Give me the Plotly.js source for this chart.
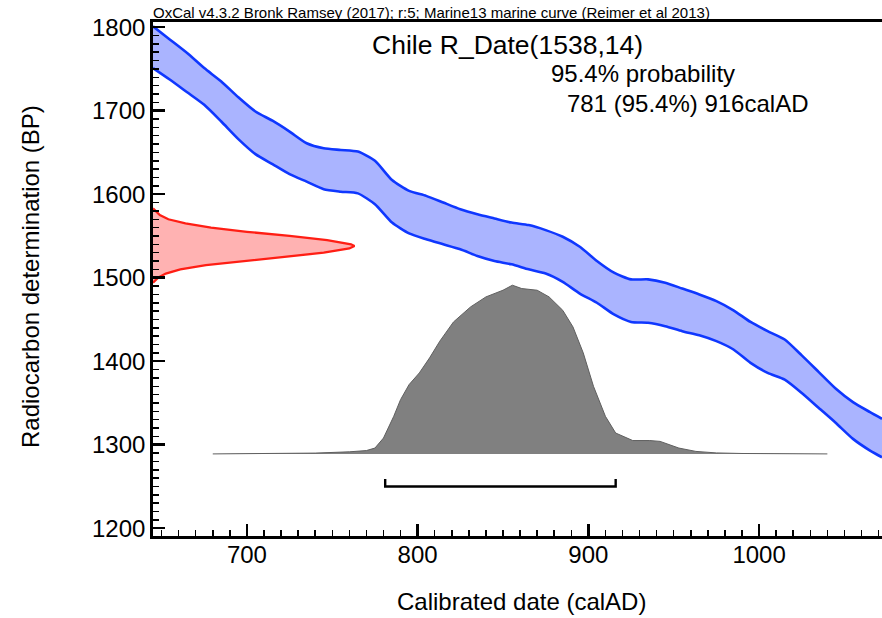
<!DOCTYPE html>
<html>
<head>
<meta charset="utf-8">
<script src="https://cdn.plot.ly/plotly-3.0.1.min.js"></script>
<style>html,body{margin:0;padding:0;background:#fff;}#chart{width:882px;height:618px;}</style>
</head>
<body>
<div id="chart"></div>
<script>
// ---- Calibration curve (Marine13), 1-sigma band ----
const calAD = [645,655,665,675,685,695,705,715,725,735,745,755,765,775,785,795,805,815,825,835,845,855,865,875,885,895,905,915,925,935,945,955,965,975,985,995,1005,1015,1025,1035,1045,1055,1065,1072];
const upperBP = [1801,1785,1769,1751,1735,1716,1699,1688,1675,1661,1655,1653,1651,1640,1617,1604,1598,1590,1582,1576,1571,1566,1563,1557,1549,1537,1520,1506,1498,1498,1494,1487,1480,1472,1461,1447,1436,1426,1407,1387,1367,1351,1339,1331];
const lowerBP = [1751,1737,1722,1707,1687,1666,1648,1636,1624,1615,1606,1603,1601,1588,1566,1553,1546,1540,1534,1526,1520,1516,1510,1505,1495,1481,1470,1456,1447,1446,1442,1436,1431,1424,1414,1398,1386,1378,1362,1344,1326,1307,1293,1285];

// ---- Radiocarbon measurement R_Date(1538,14): probability (height in calendar-year units) ----
const measBP = [1583,1580,1575,1570,1565,1560,1555,1550,1545,1540,1538,1535,1530,1525,1520,1515,1510,1505,1500,1496,1494];
const measH  = [0,1.5,4,9,19,34,55,80,102,116,118,115,100,77,52,31,16,7.5,3,1.3,0];

// ---- Calibrated probability distribution (height in BP units) ----
const postAD = [680,700,720,740,760,770,775,780,786,790,795,801,807,813,821,831,840,850,855.5,861,870,877,885,891,897,903,910,916,926,936,942,953,963,975,990,1010,1040];
const postH  = [0,0.3,0.5,1,2.5,4,7,19,45,65,83,97,115,135,158,176,188,196,202,198,196,188,172,152,121,81,45,25,16,16,15,7,3,1.2,0.5,0.2,0];

// ---- 95.4% range ----
const rangeAD = [781, 916];

// ---- Axes ----
const xTickVals = [700, 800, 900, 1000];
const yTickVals = [1200, 1300, 1400, 1500, 1600, 1700, 1800];

const xRange = [645, 1072];
const yRange = [1190.7, 1806.2];
const POST_BASE = 1289;   // baseline of the calibrated distribution
const BRACKET_Y = 1250, BRACKET_TICK = 9;

const W = 882, H = 618;
const M = {l:153, r:0, t:22, b:82};
const FONT = '"Liberation Sans", Arial, Helvetica, sans-serif';
function pxX(p){ return (p - M.l) / (W - M.l - M.r); }
function pxY(p){ return 1 - (p - M.t) / (H - M.t - M.b); }

const traces = [];
traces.push({
  x: calAD.concat(calAD.slice().reverse()),
  y: upperBP.concat(lowerBP.slice().reverse()),
  type:'scatter', mode:'lines', fill:'toself',
  fillcolor:'rgb(170,180,255)', line:{width:0, color:'rgba(0,0,0,0)', shape:'spline', smoothing:0.6},
  hoverinfo:'skip', showlegend:false
});
traces.push({x: calAD, y: upperBP, type:'scatter', mode:'lines', line:{color:'rgb(15,55,255)', width:2.6, shape:'spline', smoothing:0.6}, hoverinfo:'skip', showlegend:false});
traces.push({x: calAD, y: lowerBP, type:'scatter', mode:'lines', line:{color:'rgb(15,55,255)', width:2.6, shape:'spline', smoothing:0.6}, hoverinfo:'skip', showlegend:false});

traces.push({
  x: measH.map(h => xRange[0] + h),
  y: measBP,
  type:'scatter', mode:'lines', fill:'toself',
  fillcolor:'rgb(255,178,178)', line:{color:'rgb(255,30,20)', width:2.3},
  hoverinfo:'skip', showlegend:false
});

traces.push({
  x: postAD, y: postH.map(h => POST_BASE + h),
  type:'scatter', mode:'lines', fill:'toself',
  fillcolor:'rgb(128,128,128)', line:{color:'rgb(95,95,95)', width:1},
  hoverinfo:'skip', showlegend:false
});

traces.push({
  x: [rangeAD[0], rangeAD[0], rangeAD[1], rangeAD[1]],
  y: [BRACKET_Y + BRACKET_TICK, BRACKET_Y, BRACKET_Y, BRACKET_Y + BRACKET_TICK],
  type:'scatter', mode:'lines', line:{color:'black', width:2.4},
  hoverinfo:'skip', showlegend:false
});

const layout = {
  width: W, height: H,
  margin: M,
  paper_bgcolor:'white', plot_bgcolor:'white',
  font:{family: FONT, color:'black'},
  showlegend:false,
  xaxis:{
    range: xRange, showgrid:false, zeroline:false,
    showline:true, linecolor:'black', linewidth:2.8, mirror:true,
    tickmode:'array', tickvals: xTickVals, ticktext: xTickVals.map(String),
    ticks:'inside', ticklen:12, tickwidth:2.5, tickcolor:'black',
    ticklabelstandoff:-5,
    tickfont:{size:24, family: FONT, color:'black'},
    minor:{ticks:'inside', dtick:10, tick0:0, ticklen:6, tickwidth:1.5, tickcolor:'black'}
  },
  yaxis:{
    range: yRange, showgrid:false, zeroline:false,
    showline:true, linecolor:'black', linewidth:2.8, mirror:false,
    tickmode:'array', tickvals: yTickVals, ticktext: yTickVals.map(String),
    ticks:'inside', ticklen:12, tickwidth:2.5, tickcolor:'black',
    tickfont:{size:24, family: FONT, color:'black'},
    minor:{ticks:'inside', dtick:10, tick0:0, ticklen:6, tickwidth:1.5, tickcolor:'black'}
  },
  annotations:[
    {xref:'paper', yref:'paper', x:pxX(151), y:pxY(12), xanchor:'left', yanchor:'middle', showarrow:false,
     text:'OxCal v4.3.2 Bronk Ramsey (2017); r:5; Marine13 marine curve (Reimer et al 2013)', font:{size:15, family:FONT}},
    {xref:'paper', yref:'paper', x:pxX(507), y:pxY(45), xanchor:'center', yanchor:'middle', showarrow:false,
     text:'Chile R_Date(1538,14)', font:{size:26.5, family:FONT}},
    {xref:'paper', yref:'paper', x:pxX(643), y:pxY(74), xanchor:'center', yanchor:'middle', showarrow:false,
     text:'95.4% probability', font:{size:24, family:FONT}},
    {xref:'paper', yref:'paper', x:pxX(687), y:pxY(103), xanchor:'center', yanchor:'middle', showarrow:false,
     text:'781 (95.4%) 916calAD', font:{size:24, family:FONT}},
    {xref:'paper', yref:'paper', x:pxX(521), y:pxY(601), xanchor:'center', yanchor:'middle', showarrow:false,
     text:'Calibrated date (calAD)', font:{size:24, family:FONT}},
    {xref:'paper', yref:'paper', x:pxX(30), y:pxY(277), xanchor:'center', yanchor:'middle', showarrow:false, textangle:-90,
     text:'Radiocarbon determination (BP)', font:{size:24, family:FONT}}
  ]
};

Plotly.newPlot('chart', traces, layout, {staticPlot:true, displayModeBar:false});
</script>
</body>
</html>
